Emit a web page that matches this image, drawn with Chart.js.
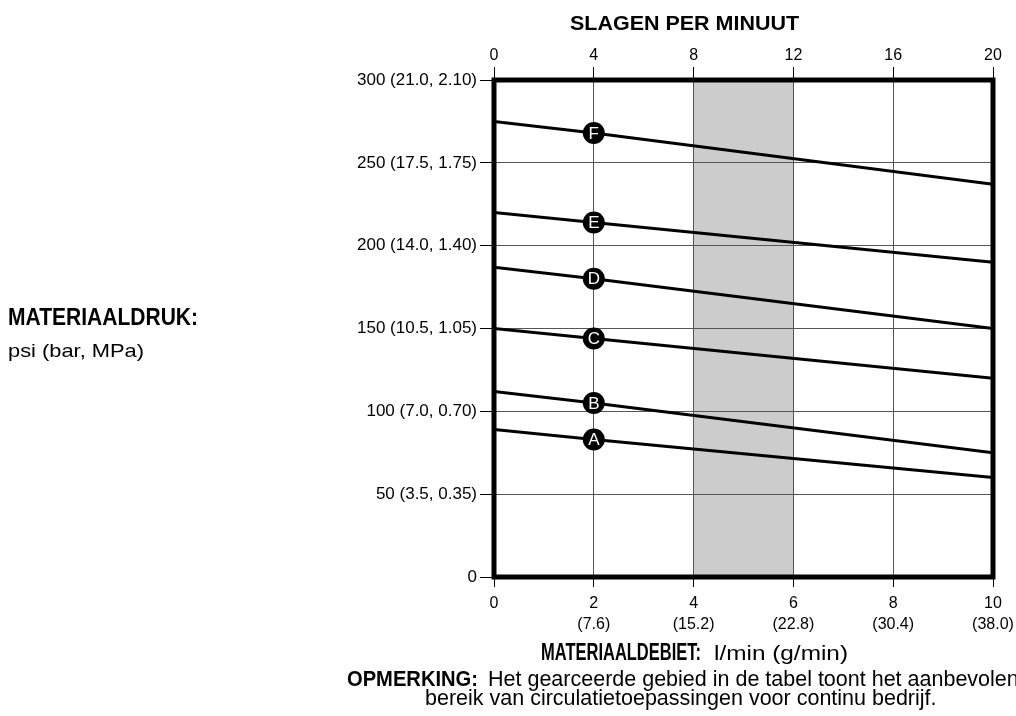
<!DOCTYPE html>
<html>
<head>
<meta charset="utf-8">
<script src="https://cdn.jsdelivr.net/npm/chart.js@4.4.1/dist/chart.umd.min.js"></script>
<style>
  body { margin: 0; background: #fff; }
  #wrap { width: 1016px; height: 716px; }
</style>
</head>
<body>
<div id="wrap"><canvas id="pumpChart" width="1016" height="716"></canvas></div>
<script>
// flow (l/min) at which each curve is read
const flowPoints = [0, 2, 10];
// pressure (psi) per curve at those flows
const curveA = [89, 83, 60];
const curveB = [112, 105, 75];
const curveC = [150, 144, 120];
const curveD = [187, 180, 150];
const curveE = [220, 214, 190];
const curveF = [275, 268, 237];
const curveNames = ['A', 'B', 'C', 'D', 'E', 'F'];

// recommended continuous range (l/min)
const shadeFrom = 4;
const shadeTo = 6;

const yTickLabels = ['0', '50 (3.5, 0.35)', '100 (7.0, 0.70)', '150 (10.5, 1.05)', '200 (14.0, 1.40)', '250 (17.5, 1.75)', '300 (21.0, 2.10)'];
const xTickLabels = [['0'], ['2', '(7.6)'], ['4', '(15.2)'], ['6', '(22.8)'], ['8', '(30.4)'], ['10', '(38.0)']];
const cycleTickLabels = ['0', '4', '8', '12', '16', '20'];

Chart.defaults.color = '#000';
Chart.defaults.font.family = '"Liberation Sans", Arial, Helvetica, sans-serif';

function fitText(ctx, text, x, y, width) {
    const w = ctx.measureText(text).width;
    ctx.save();
    ctx.translate(x, y);
    ctx.scale(width / w, 1);
    ctx.fillText(text, 0, 0);
    ctx.restore();
}

const shadePlugin = {
    id: 'shade',
    beforeDraw(chart) {
        const {ctx, chartArea, scales} = chart;
        const x1 = scales.x.getPixelForValue(shadeFrom);
        const x2 = scales.x.getPixelForValue(shadeTo);
        ctx.save();
        ctx.fillStyle = '#cccccc';
        ctx.fillRect(x1, chartArea.top, x2 - x1, chartArea.bottom - chartArea.top);
        ctx.restore();
    }
};

const decorPlugin = {
    id: 'decor',
    afterDatasetsDraw(chart) {
        const {ctx, chartArea} = chart;
        ctx.save();
        // heavy frame
        ctx.strokeStyle = '#000';
        ctx.lineWidth = 5;
        ctx.strokeRect(chartArea.left, chartArea.top, chartArea.right - chartArea.left, chartArea.bottom - chartArea.top);

        // curve letters
        ctx.fillStyle = '#fff';
        ctx.font = '17px "Liberation Sans", Arial, sans-serif';
        ctx.textAlign = 'center';
        ctx.textBaseline = 'middle';
        chart.data.datasets.forEach((ds, i) => {
            const pt = chart.getDatasetMeta(i).data[1];
            ctx.fillText(ds.label, pt.x, pt.y + 1);
        });

        // titles and notes
        ctx.fillStyle = '#000';
        ctx.textAlign = 'left';
        ctx.textBaseline = 'alphabetic';
        ctx.font = 'bold 21px "Liberation Sans", Arial, sans-serif';
        fitText(ctx, 'SLAGEN PER MINUUT', 570, 30, 229);

        ctx.font = 'bold 24px "Liberation Sans", Arial, sans-serif';
        fitText(ctx, 'MATERIAALDRUK:', 8, 325, 190);
        ctx.font = '19px "Liberation Sans", Arial, sans-serif';
        fitText(ctx, 'psi (bar, MPa)', 8, 357, 136);

        ctx.font = 'bold 23px "Liberation Sans", Arial, sans-serif';
        fitText(ctx, 'MATERIAALDEBIET:', 541, 660, 160);
        ctx.font = '21px "Liberation Sans", Arial, sans-serif';
        fitText(ctx, 'l/min (g/min)', 714, 660, 134);

        ctx.font = 'bold 22px "Liberation Sans", Arial, sans-serif';
        fitText(ctx, 'OPMERKING:', 347, 686, 131);
        ctx.font = '21.5px "Liberation Sans", Arial, sans-serif';
        ctx.fillText('Het gearceerde gebied in de tabel toont het aanbevolen', 488, 686);
        ctx.fillText('bereik van circulatietoepassingen voor continu bedrijf.', 425, 705);
        ctx.restore();
    }
};

function makeCurve(name, values) {
    return {
        label: name,
        data: flowPoints.map((f, i) => ({x: f, y: values[i]})),
        showLine: true,
        borderColor: '#000',
        borderWidth: 3,
        backgroundColor: '#000',
        pointRadius: [0, 11, 0],
        pointHoverRadius: [0, 11, 0],
        pointBorderWidth: 0,
        pointBackgroundColor: '#000'
    };
}

const curves = [curveA, curveB, curveC, curveD, curveE, curveF];

new Chart(document.getElementById('pumpChart'), {
    type: 'scatter',
    data: {
        datasets: curves.map((c, i) => makeCurve(curveNames[i], c))
    },
    options: {
        responsive: false,
        animation: false,
        layout: {padding: {left: 0, right: 23, top: 0, bottom: 0}},
        plugins: {
            legend: {display: false},
            tooltip: {enabled: false}
        },
        scales: {
            x: {
                type: 'linear',
                position: 'bottom',
                min: 0, max: 10,
                ticks: {
                    stepSize: 2,
                    padding: 6,
                    maxRotation: 0,
                    font: {size: 16, lineHeight: 1.3},
                    callback: (v, i) => xTickLabels[i]
                },
                grid: {color: '#555', lineWidth: 1, tickLength: 10, tickColor: '#000'},
                border: {display: false},
                afterFit(scale) {
                    scale.height = 139;
                    scale.paddingLeft = 0;
                    scale.paddingRight = 0;
                }
            },
            x2: {
                type: 'linear',
                position: 'top',
                min: 0, max: 20,
                ticks: {
                    stepSize: 4,
                    padding: 2,
                    maxRotation: 0,
                    font: {size: 16},
                    callback: (v, i) => cycleTickLabels[i]
                },
                grid: {drawOnChartArea: false, tickLength: 13, tickColor: '#000'},
                border: {display: false},
                afterFit(scale) {
                    scale.height = 80;
                    scale.paddingLeft = 0;
                    scale.paddingRight = 0;
                }
            },
            y: {
                type: 'linear',
                position: 'left',
                min: 0, max: 300,
                ticks: {
                    stepSize: 50,
                    padding: 3,
                    font: {size: 17},
                    callback: (v, i) => yTickLabels[i]
                },
                grid: {color: '#555', lineWidth: 1, tickLength: 14, tickColor: '#000'},
                border: {display: false},
                afterFit(scale) {
                    scale.width = 494;
                    scale.paddingTop = 0;
                    scale.paddingBottom = 0;
                }
            }
        }
    },
    plugins: [shadePlugin, decorPlugin]
});
</script>
</body>
</html>
